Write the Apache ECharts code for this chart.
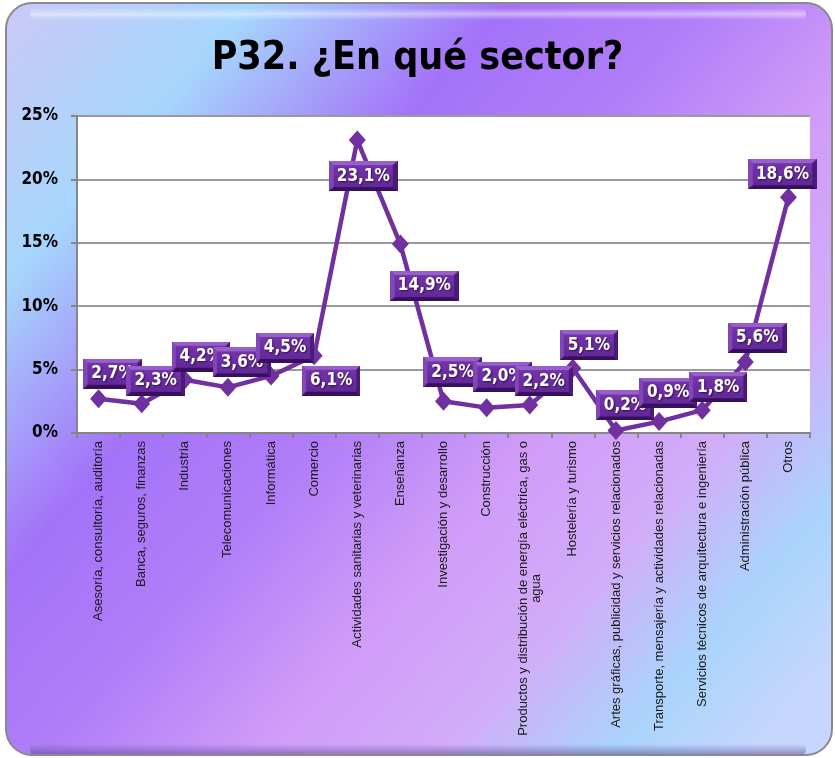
<!DOCTYPE html>
<html>
<head>
<meta charset="utf-8">
<script src="https://cdn.jsdelivr.net/npm/echarts@6/dist/echarts.min.js"></script>
<style>
html,body{margin:0;padding:0;background:#ffffff;}
#chart{width:835px;height:758px;}
</style>
</head>
<body>
<div id="chart"></div>
<script>
var titleText = 'P32. ¿En qué sector?';
var categories = [
  'Asesoría, consultoría, auditoría',
  'Banca, seguros, finanzas',
  'Industria',
  'Telecomunicaciones',
  'Informática',
  'Comercio',
  'Actividades sanitarias y veterinarias',
  'Enseñanza',
  'Investigación y desarrollo',
  'Construcción',
  'Productos y distribución de energía eléctrica, gas o agua',
  'Hostelería y turismo',
  'Artes gráficas, publicidad y servicios relacionados',
  'Transporte, mensajería y actividades relacionadas',
  'Servicios técnicos de arquitectura e ingeniería',
  'Administración pública',
  'Otros'
];
var values = [2.7, 2.3, 4.2, 3.6, 4.5, 6.1, 23.1, 14.9, 2.5, 2.0, 2.2, 5.1, 0.2, 0.9, 1.8, 5.6, 18.6];
var yTicks = [0, 5, 10, 15, 20, 25];
// label placement relative to each marker (style only)
var labelOffsets = [[14,-25],[14,-23],[16,-23],[14,-25],[14,-28],[17,25],[6,36],[24,42],[9,-29],[16,-31],[14,-24],[16,-23],[9,-25],[9,-29],[16,-23],[12,-24],[-6,-23]];

// beveled label background
function bevelImage(){
  var c = document.createElement('canvas');
  var w = 56, h = 30, b = 4;
  c.width = w; c.height = h;
  var g = c.getContext('2d');
  g.fillStyle = '#6a2c9e'; g.fillRect(0,0,w,h);
  g.fillStyle = '#9560c8';
  g.beginPath(); g.moveTo(0,0); g.lineTo(w,0); g.lineTo(w-b,b); g.lineTo(b,b); g.closePath(); g.fill();
  g.fillStyle = '#8246b6';
  g.beginPath(); g.moveTo(0,0); g.lineTo(b,b); g.lineTo(b,h-b); g.lineTo(0,h); g.closePath(); g.fill();
  g.fillStyle = '#36105c';
  g.beginPath(); g.moveTo(0,h); g.lineTo(b,h-b); g.lineTo(w-b,h-b); g.lineTo(w,h); g.closePath(); g.fill();
  g.fillStyle = '#4a1a78';
  g.beginPath(); g.moveTo(w,0); g.lineTo(w,h); g.lineTo(w-b,h-b); g.lineTo(w-b,b); g.closePath(); g.fill();
  var ig = g.createLinearGradient(0,b,0,h-b);
  ig.addColorStop(0,'#7434aa'); ig.addColorStop(1,'#63289a');
  g.fillStyle = ig; g.fillRect(b,b,w-2*b,h-2*b);
  return c.toDataURL();
}
var bevel = bevelImage();

function fmt(v){ return v.toFixed(1).replace('.', ',') + '%'; }

var chart = echarts.init(document.getElementById('chart'), null, {renderer:'canvas'});
var narrow = '"Liberation Sans Narrow", "DejaVu Sans Condensed", "Liberation Sans", sans-serif';

chart.setOption({
  animation: false,
  backgroundColor: '#ffffff',
  graphic: [
    {
      type: 'rect', z: -10, silent: true,
      shape: {x: 6, y: 3, width: 826, height: 752, r: 26},
      style: {
        fill: new echarts.graphic.LinearGradient(0, 0, 800, 700, [
          {offset: 0, color: '#ccc8f6'},
          {offset: 0.18, color: '#a6d6fc'},
          {offset: 0.36, color: '#a472f8'},
          {offset: 0.5, color: '#b07ef8'},
          {offset: 0.65, color: '#d09cf8'},
          {offset: 0.78, color: '#d2acf8'},
          {offset: 0.9, color: '#aad4fc'},
          {offset: 1, color: '#c6d6fc'}
        ], true),
        stroke: '#8a8a8a', lineWidth: 2
      }
    },
    {
      type: 'rect', z: -9, silent: true,
      shape: {x: 30, y: 8, width: 776, height: 12, r: 6},
      style: {
        fill: new echarts.graphic.LinearGradient(0, 0, 0, 1, [
          {offset: 0, color: 'rgba(255,255,255,0.0)'},
          {offset: 0.5, color: 'rgba(255,255,255,0.45)'},
          {offset: 1, color: 'rgba(255,255,255,0.0)'}
        ])
      }
    },
    {
      type: 'rect', z: -9, silent: true,
      shape: {x: 30, y: 744, width: 776, height: 10, r: 4},
      style: {
        fill: new echarts.graphic.LinearGradient(0, 0, 0, 1, [
          {offset: 0, color: 'rgba(80,60,140,0.0)'},
          {offset: 1, color: 'rgba(80,60,140,0.45)'}
        ])
      }
    }
  ],
  title: {
    text: titleText,
    left: 'center',
    top: 34,
    textStyle: {
      fontFamily: '"Liberation Sans Narrow", "DejaVu Sans Condensed", sans-serif',
      fontSize: 39, fontWeight: 'bold', color: '#000000'
    }
  },
  grid: {
    left: 77, right: 25, top: 116, bottom: 325,
    show: true, backgroundColor: '#ffffff', borderWidth: 0,
    containLabel: false
  },
  xAxis: {
    type: 'category',
    data: categories,
    boundaryGap: true,
    axisLine: {show: true, lineStyle: {color: '#868686', width: 2}},
    axisTick: {show: true, length: 5, lineStyle: {color: '#868686', width: 2}},
    splitLine: {show: false},
    axisLabel: {
      rotate: 90,
      interval: 0,
      margin: 8,
      fontFamily: '"Liberation Sans", Arial, sans-serif',
      fontSize: 13,
      color: '#1a1a1a',
      formatter: function(v){
        if (v.length > 52) {
          var cut = v.lastIndexOf(' ', 52);
          return v.slice(0, cut) + '\n{c|' + v.slice(cut + 1) + '}';
        }
        return v;
      },
      rich: {
        c: {align: 'center', fontSize: 13, fontFamily: '"Liberation Sans", Arial, sans-serif', color: '#1a1a1a'}
      }
    }
  },
  yAxis: {
    type: 'value',
    min: yTicks[0],
    max: yTicks[yTicks.length - 1],
    interval: yTicks[1] - yTicks[0],
    axisLine: {show: true, lineStyle: {color: '#868686', width: 2}},
    axisTick: {show: true, length: 6, lineStyle: {color: '#868686', width: 2}},
    splitLine: {show: true, lineStyle: {color: '#9a9a9a', width: 2}},
    axisLabel: {
      formatter: '{value}%',
      margin: 19,
      fontFamily: narrow,
      fontSize: 17,
      fontWeight: 'bold',
      color: '#000000'
    }
  },
  series: [{
    type: 'line',
    data: values,
    symbol: 'diamond',
    symbolSize: [17, 19],
    lineStyle: {color: '#7030a0', width: 4.5},
    itemStyle: {color: '#7030a0'},
    z: 3,
    label: {
      show: true,
      position: 'inside',
      formatter: function(p){ return fmt(p.value); },
      fontFamily: narrow,
      fontSize: 17,
      fontWeight: 'bold',
      color: '#ffffff',
      textShadowColor: 'rgba(0,0,0,0.6)',
      textShadowBlur: 2,
      textShadowOffsetX: 1,
      textShadowOffsetY: 1,
      height: 20,
      lineHeight: 20,
      align: 'center',
      padding: [5, 8, 5, 8],
      backgroundColor: {image: bevel}
    },
    labelLayout: function(p){
      var o = labelOffsets[p.dataIndex];
      return {dx: o[0], dy: o[1], hideOverlap: false};
    }
  }]
});
</script>
</body>
</html>
